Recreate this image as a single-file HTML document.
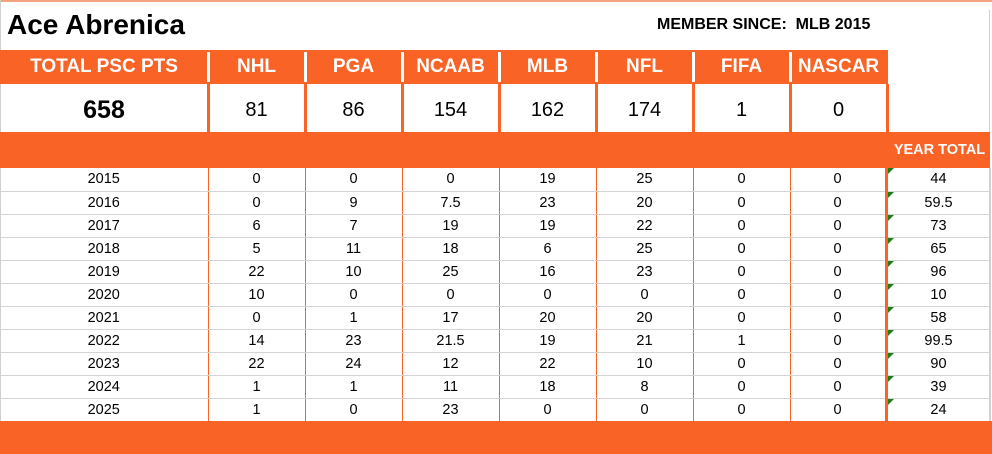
<!DOCTYPE html>
<html><head><style>
*{margin:0;padding:0;box-sizing:border-box}
body{width:992px;height:454px;background:#fff;position:relative;overflow:hidden;font-family:"Liberation Sans",sans-serif;color:#000}
.a{position:absolute}
.o{background:#f96325}
.hd{position:absolute;top:50px;height:34px;color:#fff;font-weight:bold;font-size:19px;line-height:34px;text-align:center}
.vl{position:absolute;top:84px;height:48px;font-size:20px;line-height:52px;text-align:center}
table{position:absolute;left:0;top:168px;border-collapse:collapse;table-layout:fixed;width:990px}
td{height:23px;font-size:14.5px;text-align:center;border-bottom:1px solid #d4d4d4;border-right:1px solid #f96325;padding:0;line-height:22px}
td.t{border-left:3px solid #f96325;border-right:1px solid #d4d4d4;position:relative}
td.t:before{content:"";position:absolute;left:0;top:0;border-top:6px solid #1a7f1a;border-right:6px solid transparent}
</style></head><body>
<div class="a" style="left:0;top:0;width:992px;height:2px;background:#f2a27e"></div>
<div class="a" style="left:0;top:0;width:1px;height:454px;background:#d0d0d0"></div>
<div class="a" style="left:989px;top:10px;width:1px;height:444px;background:#d0d0d0"></div>
<div class="a" style="left:7px;top:9px;font-size:28px;font-weight:bold">Ace Abrenica</div>
<div class="a" style="left:657px;top:16px;font-size:16px;font-weight:bold">MEMBER SINCE:&nbsp; MLB 2015</div>
<div class="a o" style="left:0;top:50px;width:888px;height:34px"></div>
<div class="hd" style="left:0;width:208px">TOTAL PSC PTS</div>
<div class="hd" style="left:208px;width:97px">NHL</div>
<div class="hd" style="left:305px;width:97px">PGA</div>
<div class="hd" style="left:402px;width:97px">NCAAB</div>
<div class="hd" style="left:499px;width:97px">MLB</div>
<div class="hd" style="left:596px;width:97px">NFL</div>
<div class="hd" style="left:693px;width:97px">FIFA</div>
<div class="hd" style="left:790px;width:97px">NASCAR</div>
<div class="a" style="left:207px;top:52px;width:3px;height:30px;background:#fff"></div>
<div class="a" style="left:304px;top:52px;width:3px;height:30px;background:#fff"></div>
<div class="a" style="left:401px;top:52px;width:3px;height:30px;background:#fff"></div>
<div class="a" style="left:498px;top:52px;width:3px;height:30px;background:#fff"></div>
<div class="a" style="left:595px;top:52px;width:3px;height:30px;background:#fff"></div>
<div class="a" style="left:692px;top:52px;width:3px;height:30px;background:#fff"></div>
<div class="a" style="left:789px;top:52px;width:3px;height:30px;background:#fff"></div>
<div class="vl" style="left:0;width:208px;font-weight:bold;font-size:25px">658</div>
<div class="vl" style="left:208px;width:97px">81</div>
<div class="vl" style="left:305px;width:97px">86</div>
<div class="vl" style="left:402px;width:97px">154</div>
<div class="vl" style="left:499px;width:97px">162</div>
<div class="vl" style="left:596px;width:97px">174</div>
<div class="vl" style="left:693px;width:97px">1</div>
<div class="vl" style="left:790px;width:97px">0</div>
<div class="a o" style="left:207px;top:84px;width:3px;height:49px"></div>
<div class="a o" style="left:304px;top:84px;width:3px;height:49px"></div>
<div class="a o" style="left:401px;top:84px;width:3px;height:49px"></div>
<div class="a o" style="left:498px;top:84px;width:3px;height:49px"></div>
<div class="a o" style="left:595px;top:84px;width:3px;height:49px"></div>
<div class="a o" style="left:692px;top:84px;width:3px;height:49px"></div>
<div class="a o" style="left:789px;top:84px;width:3px;height:49px"></div>
<div class="a o" style="left:886px;top:84px;width:3px;height:49px"></div>
<div class="a o" style="left:0;top:132px;width:990px;height:36px"></div>
<div class="a" style="left:889px;top:142px;width:101px;text-align:center;color:#fff;font-weight:bold;font-size:14.5px">YEAR TOTAL</div>
<table>
<colgroup><col style="width:208px"><col style="width:97px"><col style="width:97px"><col style="width:97px"><col style="width:97px"><col style="width:97px"><col style="width:97px"><col style="width:96px"><col style="width:104px"></colgroup>
<tr><td>2015</td><td>0</td><td>0</td><td>0</td><td>19</td><td>25</td><td>0</td><td>0</td><td class="t">44</td></tr>
<tr><td>2016</td><td>0</td><td>9</td><td>7.5</td><td>23</td><td>20</td><td>0</td><td>0</td><td class="t">59.5</td></tr>
<tr><td>2017</td><td>6</td><td>7</td><td>19</td><td>19</td><td>22</td><td>0</td><td>0</td><td class="t">73</td></tr>
<tr><td>2018</td><td>5</td><td>11</td><td>18</td><td>6</td><td>25</td><td>0</td><td>0</td><td class="t">65</td></tr>
<tr><td>2019</td><td>22</td><td>10</td><td>25</td><td>16</td><td>23</td><td>0</td><td>0</td><td class="t">96</td></tr>
<tr><td>2020</td><td>10</td><td>0</td><td>0</td><td>0</td><td>0</td><td>0</td><td>0</td><td class="t">10</td></tr>
<tr><td>2021</td><td>0</td><td>1</td><td>17</td><td>20</td><td>20</td><td>0</td><td>0</td><td class="t">58</td></tr>
<tr><td>2022</td><td>14</td><td>23</td><td>21.5</td><td>19</td><td>21</td><td>1</td><td>0</td><td class="t">99.5</td></tr>
<tr><td>2023</td><td>22</td><td>24</td><td>12</td><td>22</td><td>10</td><td>0</td><td>0</td><td class="t">90</td></tr>
<tr><td>2024</td><td>1</td><td>1</td><td>11</td><td>18</td><td>8</td><td>0</td><td>0</td><td class="t">39</td></tr>
<tr><td>2025</td><td>1</td><td>0</td><td>23</td><td>0</td><td>0</td><td>0</td><td>0</td><td class="t">24</td></tr>
</table>
<div class="a o" style="left:0;top:421px;width:992px;height:33px"></div>
</body></html>
